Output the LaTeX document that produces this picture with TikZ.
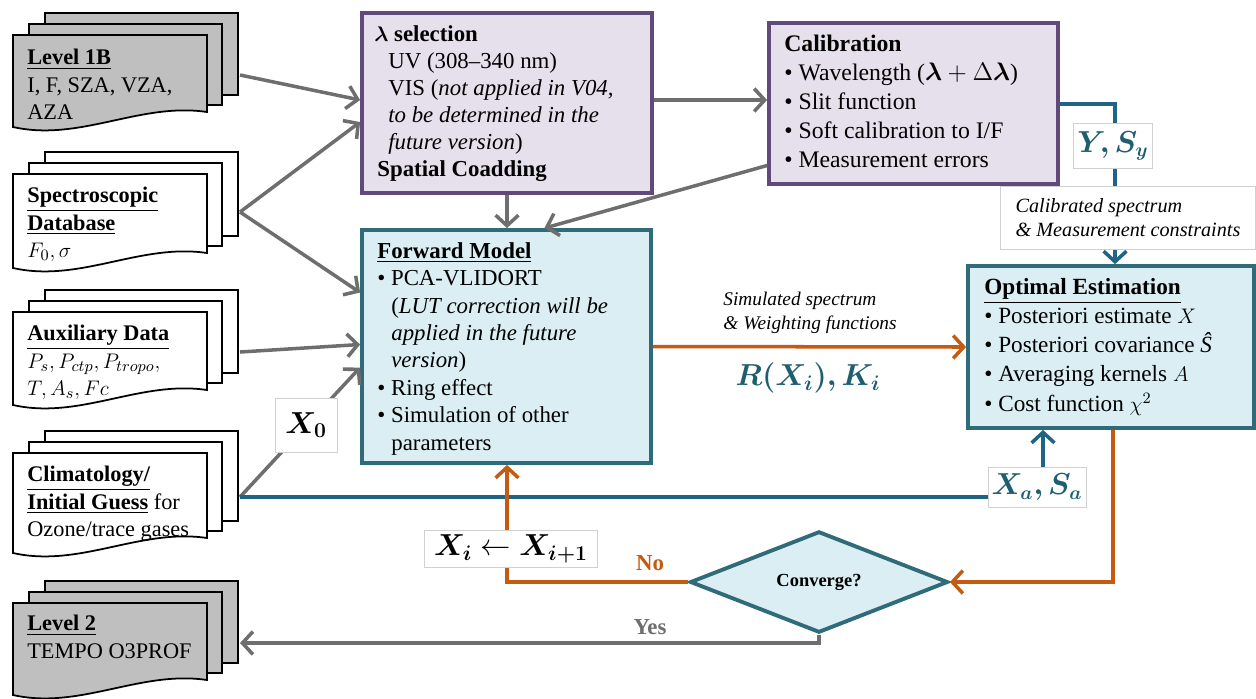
\documentclass[tikz,border=0pt]{standalone}
\usepackage{amsmath,bm}
\usepackage{fontspec}
\setmainfont{Liberation Serif}
\usetikzlibrary{arrows.meta,shapes.geometric,calc}
\definecolor{lgray}{HTML}{6E6E6E}
\definecolor{lteal}{HTML}{1F6485}
\definecolor{ttext}{HTML}{1E5E6E}
\definecolor{tealb}{HTML}{2F6B78}
\definecolor{bluef}{HTML}{DAEEF3}
\definecolor{purpb}{HTML}{5F4A7B}
\definecolor{purpf}{HTML}{E5E0EC}
\definecolor{lorange}{HTML}{C55A11}
\definecolor{docgray}{HTML}{BFBFBF}
\definecolor{lblb}{HTML}{D0D0D0}
\newcommand\setfs[2]{\fontsize{#1}{#2}\selectfont}
\newcommand\mdoc[3]{%
  \draw[docln,fill=#3] (45,#1-22) rectangle (238,#2-17);
  \draw[docln,fill=#3] (29,#1-11) rectangle (222,#2-7);
  \draw[docln,fill=#3] (13,#1) -- (207,#1) -- (207,#2) .. controls (140,#2-10) and (80,#2+30) .. (13,#2+15) -- cycle;
}
\begin{document}
\begin{tikzpicture}[x=0.02cm,y=-0.02cm,
  ln/.style={line width=2pt},
  arr/.style={-{Straight Barb[length=6pt,width=13pt]}},
  grayln/.style={ln, draw=lgray},
  tealln/.style={ln, draw=lteal},
  orln/.style={ln, draw=lorange},
  pbox/.style={draw=purpb, fill=purpf, line width=2.2pt, inner sep=0},
  bbox/.style={draw=tealb, fill=bluef, line width=2.2pt, inner sep=0},
  lbl/.style={draw=lblb, fill=white, line width=0.4pt, inner sep=0},
  txt/.style={anchor=north west, align=left, inner sep=0},
  doctxt/.style={txt, font=\setfs{12.7}{15.5}},
  docln/.style={draw=black, line width=1pt},
]
\useasboundingbox (0,0) rectangle (1256,698);

% documents
\mdoc{35}{112}{docgray}
\mdoc{174}{253}{white}
\mdoc{312}{390}{white}
\mdoc{453}{538}{white}
\mdoc{603}{680}{docgray}

\node[doctxt] (l1b) at (27,49) {\underline{\textbf{Level 1B}}\\I, F, SZA, VZA,\\AZA};
\node[doctxt] (spec) at (27,187) {\underline{\textbf{Spectroscopic}}\\\underline{\textbf{Database}}\\$F_0,\sigma$};
\node[doctxt] (aux) at (27,325) {\underline{\textbf{Auxiliary Data}}\\$P_s, P_{ctp}, P_{tropo},$\\$T, A_s, Fc$};
\node[doctxt] (clim) at (27,466) {\underline{\textbf{Climatology/}}\\\underline{\textbf{Initial Guess}} for\\Ozone/trace gases};
\node[doctxt] (lvl2) at (27,615) {\underline{\textbf{Level 2}}\\TEMPO O3PROF};

\coordinate (l1bout) at (240,75);
\coordinate (specout) at (240,212);
\coordinate (auxout) at (240,352);
\coordinate (climout) at (240,497);
\coordinate (l2in) at (240,643);

% boxes
\node[pbox, minimum width=5.8cm, minimum height=3.6cm] (sel) at (507,103) {};
\node[pbox, minimum width=5.78cm, minimum height=3.22cm] (cal) at (913.5,103.5) {};
\node[bbox, minimum width=5.78cm, minimum height=4.66cm] (fm) at (506.5,346.5) {};
\node[bbox, minimum width=5.72cm, minimum height=3.24cm] (oe) at (1111,347) {};
\node[diamond, draw=tealb, fill=bluef, line width=2.2pt, inner sep=0,
      minimum width=5.16cm, minimum height=1.84cm, font=\bfseries\setfs{10.5}{12}] (conv) at (819,582) {Converge?};

\node[txt, font=\setfs{13}{15.4}] (seltxt) at (374,25) {%
\textbf{$\bm{\lambda}$ selection}\\
\hspace*{0.28cm}UV (308–340 nm)\\
\hspace*{0.28cm}VIS (\textit{not applied in V04,}\\
\hspace*{0.28cm}\textit{to be determined in the}\\
\hspace*{0.28cm}\textit{future version})\\
\hspace*{0.06cm}\textbf{Spatial Coadding}};

\node[txt, font=\setfs{13.5}{16.4}] (caltxt) at (784,35) {%
\textbf{Calibration}\\
• Wavelength ($\bm{\lambda}+\Delta\bm{\lambda}$)\\
• Slit function\\
• Soft calibration to I/F\\
• Measurement errors};

\node[txt, font=\setfs{13}{15.6}] (fmtxt) at (377,242) {%
\underline{\textbf{Forward Model}}\\
• PCA-VLIDORT\\
\hspace*{0.28cm}(\textit{LUT correction will be}\\
\hspace*{0.28cm}\textit{applied in the future}\\
\hspace*{0.28cm}\textit{version})\\
• Ring effect\\
• Simulation of other\\
\hspace*{0.28cm}parameters};

\node[txt, font=\setfs{13.2}{16.6}] (oetxt) at (984,278) {%
\underline{\textbf{Optimal Estimation}}\\
• Posteriori estimate $X$\\
• Posteriori covariance \textit{Ŝ}\\
• Averaging kernels $A$\\
• Cost function $\chi^2$};

% gray connectors
\draw[grayln,arr] (l1bout) -- ($(sel.west)+(0,-3)$);
\draw[grayln,arr] (specout) -- ($(sel.west)+(0,19)$);
\draw[grayln,arr] (specout) -- ($(fm.west)+(0,-54)$);
\draw[grayln,arr] (auxout) -- ($(fm.west)+(0,-2)$);
\draw[grayln,arr] (climout) -- ($(fm.west)+(0,21)$);
\draw[grayln,arr] (sel.south) -- (sel.south |- fm.north);
\draw[grayln,arr] ($(sel.east)+(0,-3)$) -- ($(cal.west)+(0,-3.5)$);
\draw[grayln,arr] ($(cal.west)+(0,62)$) -- ($(fm.north)+(38,0)$);
\draw[grayln,arr] (conv.south) -- (conv.south |- l2in) -- (l2in);

% teal connectors
\draw[tealln,arr] ($(cal.east)+(0,0.5)$) -| ($(oe.north)+(4,0)$);
\draw[tealln,arr] (climout) -| ($(oe.south)+(-68,0)$);

% orange connectors
\draw[orln,arr] (fm.east) -- (oe.west);
\draw[orln,arr] ($(oe.south)+(2,0)$) |- (conv.east);
\draw[orln,arr] (conv.west) -| ($(fm.south)+(0.5,0)$);

% labels
\node[lbl, minimum width=1.24cm, minimum height=1.08cm, font=\setfs{17}{20}] (x0) at (306,425) {$\bm{X_0}$};
\node[lbl, minimum width=1.58cm, minimum height=0.9cm, font=\setfs{16}{19}, text=ttext] (ysy) at (1113,146) {$\bm{Y, S_y}$};
\node[lbl, minimum width=5.1cm, minimum height=1.26cm, align=left, font=\itshape\setfs{11.5}{13.6}] (calib) at (1128,218) {Calibrated spectrum\\\& Measurement constraints};
\node[lbl, minimum width=1.96cm, minimum height=0.8cm, font=\setfs{16}{19}, text=ttext] (xasa) at (1037,487) {$\bm{X_a, S_a}$};
\node[lbl, minimum width=3.46cm, minimum height=0.74cm, font=\setfs{17}{20}] (xi) at (511,549) {$\bm{X_i}\leftarrow\bm{X_{i+1}}$};
\node[align=left, inner sep=0, font=\itshape\setfs{11}{14}] (simlbl) at (810,313) {Simulated spectrum\\\& Weighting functions};
\node[inner sep=0, font=\setfs{18}{21}, text=ttext] (rk) at (808,378) {$\bm{R(X_i), K_i}$};
\node[inner sep=0, font=\bfseries\setfs{13}{15}, text=lorange] (no) at (650,563) {No};
\node[inner sep=0, font=\bfseries\setfs{13}{15}, text=lgray] (yes) at (650,627) {Yes};
\end{tikzpicture}
\end{document}
